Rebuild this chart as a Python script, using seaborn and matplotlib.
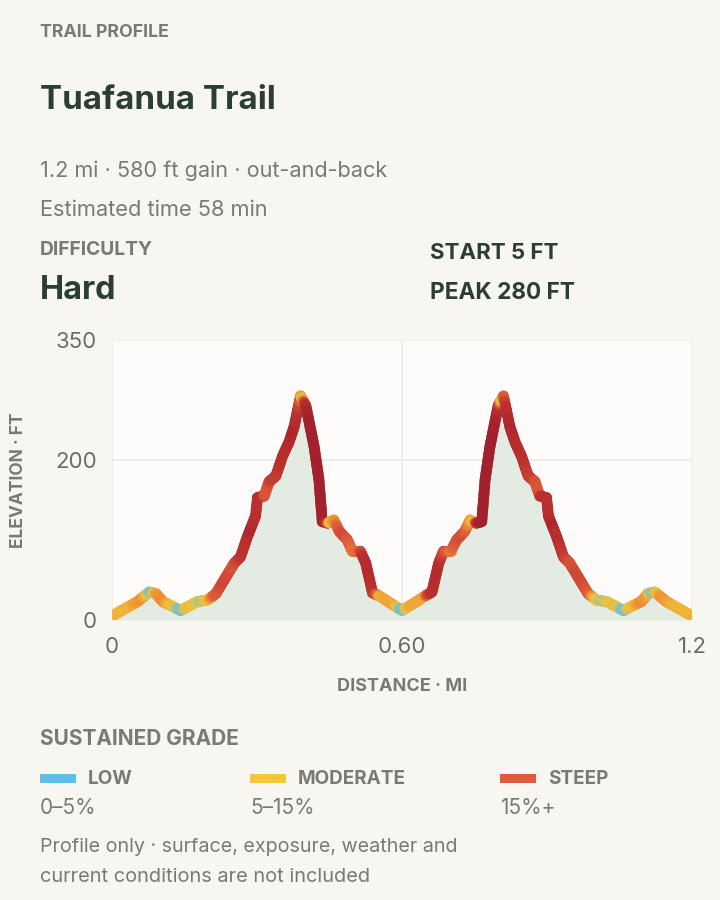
import numpy as np
import pandas as pd
import seaborn as sns
import matplotlib.pyplot as plt
from matplotlib.collections import LineCollection
from matplotlib.colors import LinearSegmentedColormap
from matplotlib.patches import Rectangle

###DATA###
dist_mi = [0.000, 0.053, 0.077, 0.091, 0.105, 0.142, 0.177, 0.198, 0.215, 0.232,
           0.253, 0.266, 0.280, 0.297, 0.301, 0.315, 0.325, 0.339, 0.353, 0.366,
           0.377, 0.390, 0.401, 0.418, 0.428, 0.435, 0.446, 0.459, 0.470, 0.487,
           0.497, 0.514, 0.525, 0.539, 0.556, 0.576, 0.600,
           0.625, 0.645, 0.662, 0.676, 0.686, 0.701, 0.713, 0.730, 0.741, 0.754,
           0.765, 0.772, 0.782, 0.799, 0.810, 0.823, 0.834, 0.847, 0.861, 0.875,
           0.885, 0.899, 0.903, 0.920, 0.934, 0.947, 0.968, 0.985, 1.002, 1.023,
           1.058, 1.095, 1.109, 1.123, 1.147, 1.200]
elev_ft = [5, 23, 35, 33, 23, 12, 23, 25, 33, 50,
           71, 79, 104, 130, 153, 155, 173, 180, 205, 222,
           242, 280, 268, 217, 176, 123, 121, 125, 111, 100,
           86, 86, 71, 34, 29, 21, 12,
           21, 29, 35, 71, 86, 86, 100, 111, 125, 121,
           123, 176, 217, 268, 280, 242, 222, 205, 180, 173,
           155, 153, 130, 104, 79, 71, 50, 33, 25, 23,
           12, 23, 33, 35, 23, 5]

x_ticks = [0, 0.6, 1.2]
x_labels = ['0', '0.60', '1.2']
y_ticks = [0, 200, 350]

grade_names = ['LOW', 'MODERATE', 'STEEP']
grade_ranges = ['0\u20135%', '5\u201315%', '15%+']
grade_colors = ['#5bbfea', '#f5c735', '#e05a3d']
legend_x = [40, 250, 500]

BG = '#f7f6f1'
PANEL = '#fdfcfa'
DARK = '#2c3e34'
GREY = '#787b73'

sns.set_theme(style='white')
plt.rcParams['font.family'] = ['Inter', 'DejaVu Sans']

fig = plt.figure(figsize=(7.2, 9), dpi=100, facecolor=BG)
ax = fig.add_axes([112/720, 280/900, 580/720, 280/900])
ax.set_facecolor(PANEL)

df = pd.DataFrame({'dist': dist_mi, 'elev': elev_ft})
ax.fill_between(df['dist'], df['elev'], color='#e4ebe3', lw=0, zorder=1)
sns.lineplot(data=df, x='dist', y='elev', ax=ax, color='#c0392b', lw=7.5, zorder=2)

# colour the line by sustained grade (window of +-0.015 mi)
d = np.asarray(dist_mi)
e = np.asarray(elev_ft, dtype=float)
sub_d = np.concatenate([np.linspace(d[i], d[i+1], max(2, int((d[i+1]-d[i])/0.002)), endpoint=False)
                        for i in range(len(d)-1)] + [d[-1:]])
sub_e = np.interp(sub_d, d, e)
w = 0.015
lo = np.clip(sub_d - w, d[0], d[-1])
hi = np.clip(sub_d + w, d[0], d[-1])
grade = np.abs(np.interp(hi, d, e) - np.interp(lo, d, e)) / ((hi - lo) * 5280) * 100
mid_grade = (grade[:-1] + grade[1:]) / 2

gmax = 50
cmap = LinearSegmentedColormap.from_list('grade', [
    (0.0, '#6cc0dc'), (5/gmax, '#eec43c'), (8.5/gmax, '#f09434'),
    (12/gmax, '#e2603c'), (25/gmax, '#bd322f'), (1.0, '#a3202e')])
pts = np.column_stack([sub_d, sub_e])
segs = np.stack([pts[:-1], pts[1:]], axis=1)
lc = LineCollection(segs, colors=cmap(np.clip(mid_grade/gmax, 0, 1)), linewidths=7.8,
                    capstyle='round', joinstyle='round', zorder=3)
ax.add_collection(lc)

ax.set_xlim(0, 1.2)
ax.set_ylim(0, 350)
ax.set_xticks(x_ticks)
ax.set_xticklabels(x_labels)
ax.set_yticks(y_ticks)
ax.grid(True, color='#ebebe7', lw=1.2)
ax.set_axisbelow(True)
for s in ax.spines.values():
    s.set_visible(False)
ax.tick_params(length=0, labelsize=16, labelcolor='#6b6e68')
ax.tick_params(axis='x', pad=12)
ax.tick_params(axis='y', pad=11)
ax.set_xlabel('')
ax.set_ylabel('')

def px(x, y):
    return x/720, 1 - y/900

fig.text(*px(402, 691), 'DISTANCE \u00b7 MI', fontsize=13, fontweight='bold', color=GREY, ha='center', va='baseline')
fig.text(*px(19, 480), 'ELEVATION \u00b7 FT', fontsize=12.5, fontweight='bold', color=GREY,
         ha='center', va='center', rotation=90)

###HEADER###
fig.text(*px(40, 37), 'TRAIL PROFILE', fontsize=12.8, fontweight='bold', color=GREY, va='baseline')
fig.text(*px(40, 109), 'Tuafanua Trail', fontsize=23.8, fontweight='bold', color=DARK, va='baseline')
fig.text(*px(40, 177), '1.2 mi \u00b7 580 ft gain \u00b7 out-and-back', fontsize=15.6, color=GREY, va='baseline')
fig.text(*px(40, 216), 'Estimated time 58 min', fontsize=15.7, color=GREY, va='baseline')
fig.text(*px(40, 255), 'DIFFICULTY', fontsize=13.8, fontweight='bold', color=GREY, va='baseline')
fig.text(*px(40, 299), 'Hard', fontsize=23.3, fontweight='bold', color=DARK, va='baseline')
fig.text(*px(430, 259), 'START 5 FT', fontsize=16, fontweight='bold', color=DARK, va='baseline')
fig.text(*px(430, 299), 'PEAK 280 FT', fontsize=16.3, fontweight='bold', color=DARK, va='baseline')

###LEGEND###
fig.text(*px(40, 745), 'SUSTAINED GRADE', fontsize=15, fontweight='bold', color=GREY, va='baseline')
for name, rng, col, x0 in zip(grade_names, grade_ranges, grade_colors, legend_x):
    fig.patches.append(Rectangle(px(x0, 783), 36/720, 9/900, transform=fig.transFigure,
                                 facecolor=col, edgecolor='none'))
    fig.text(*px(x0 + 48, 784), name, fontsize=13.6, fontweight='bold', color=GREY, va='baseline')
    fig.text(*px(x0, 814), rng, fontsize=15, color=GREY, va='baseline')

fig.text(*px(40, 852), 'Profile only \u00b7 surface, exposure, weather and', fontsize=14.2, color=GREY, va='baseline')
fig.text(*px(40, 882), 'current conditions are not included', fontsize=14.4, color=GREY, va='baseline')

plt.savefig('out.png', dpi=100, facecolor=BG)
